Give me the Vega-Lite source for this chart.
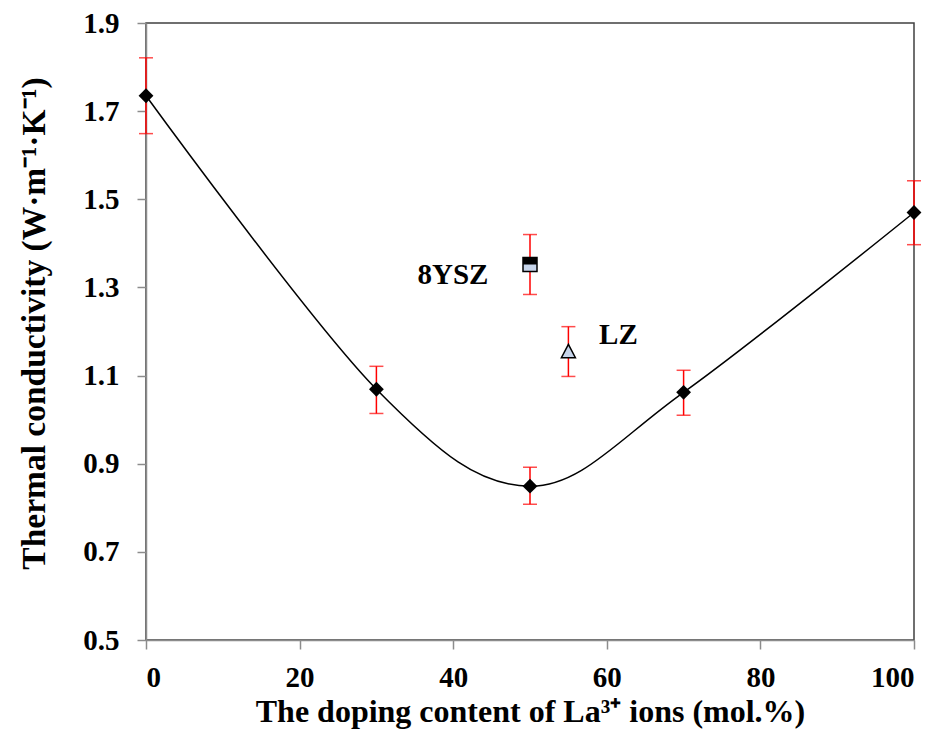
{
  "$schema": "https://vega.github.io/schema/vega-lite/v6.json",
  "autosize": {"type": "none"},
  "width": 768,
  "height": 617,
  "padding": {"left": 146, "top": 23, "right": 30, "bottom": 106},
  "background": "white",
  "config": {
    "font": "Liberation Serif",
    "view": {"stroke": "#404040", "strokeWidth": 1.5},
    "axis": {
      "labelFont": "Liberation Serif",
      "titleFont": "Liberation Serif",
      "labelFontWeight": "bold",
      "titleFontWeight": "bold",
      "labelFontSize": 29,
      "titleFontSize": 32,
      "labelColor": "black",
      "titleColor": "black",
      "domainColor": "#8c8c8c",
      "domainWidth": 1.5,
      "tickColor": "#8c8c8c",
      "tickWidth": 1.5,
      "tickSize": 9,
      "grid": false
    }
  },
  "data": {
    "values": [
      {"content": 0, "k": 1.735, "lo": 1.649, "hi": 1.821, "series": "La"},
      {"content": 30, "k": 1.069, "lo": 1.014, "hi": 1.121, "series": "La"},
      {"content": 50, "k": 0.849, "lo": 0.808, "hi": 0.892, "series": "La"},
      {"content": 70, "k": 1.062, "lo": 1.010, "hi": 1.112, "series": "La"},
      {"content": 100, "k": 1.470, "lo": 1.397, "hi": 1.542, "series": "La"},
      {"content": 50, "k": 1.352, "lo": 1.284, "hi": 1.420, "series": "8YSZ"},
      {"content": 55, "k": 1.155, "lo": 1.098, "hi": 1.211, "series": "LZ"}
    ]
  },
  "encoding": {
    "x": {
      "field": "content", "type": "quantitative",
      "scale": {"domain": [0, 100], "nice": false, "zero": false},
      "axis": {"values": [0, 20, 40, 60, 80, 100], "labelPadding": 14, "titlePadding": 4,
               "title": "The doping content of La³⁺ ions (mol.%)"}
    },
    "y": {
      "field": "k", "type": "quantitative",
      "scale": {"domain": [0.5, 1.9], "nice": false, "zero": false},
      "axis": {"values": [0.5, 0.7, 0.9, 1.1, 1.3, 1.5, 1.7, 1.9], "format": ".1f",
               "labelPadding": 18, "titlePadding": 31, "titleFontSize": 33.5, "titleY": 300,
               "title": "Thermal conductivity (W·m⁻¹·K⁻¹)"}
    }
  },
  "layer": [
    {
      "transform": [{"filter": "datum.series === 'La'"}],
      "mark": {"type": "line", "interpolate": "cardinal", "color": "black", "strokeWidth": 1.5}
    },
    {
      "mark": {"type": "rule", "color": "#ff0000", "strokeWidth": 1.5},
      "encoding": {"y": {"field": "lo", "type": "quantitative"}, "y2": {"field": "hi"}}
    },
    {
      "mark": {"type": "tick", "orient": "horizontal", "color": "#ff0000", "size": 14, "thickness": 1.5},
      "encoding": {"y": {"field": "lo", "type": "quantitative"}}
    },
    {
      "mark": {"type": "tick", "orient": "horizontal", "color": "#ff0000", "size": 14, "thickness": 1.5},
      "encoding": {"y": {"field": "hi", "type": "quantitative"}}
    },
    {
      "transform": [{"filter": "datum.series === 'La'"}],
      "mark": {"type": "point", "shape": "diamond", "filled": true, "color": "black", "size": 220, "opacity": 1}
    },
    {
      "transform": [{"filter": "datum.series === '8YSZ'"}],
      "mark": {"type": "point", "shape": "square", "filled": true, "fill": "#c6d4ea", "stroke": "black", "strokeWidth": 1.5, "size": 196, "opacity": 1}
    },
    {
      "transform": [{"filter": "datum.series === '8YSZ'"}],
      "mark": {"type": "point", "shape": "M-1,-1L1,-1L1,0L-1,0Z", "filled": true, "fill": "black", "size": 196, "opacity": 1}
    },
    {
      "transform": [{"filter": "datum.series === 'LZ'"}],
      "mark": {"type": "point", "shape": "M0,-1L1,0.9L-1,0.9Z", "filled": true, "fill": "#c6d4ea", "stroke": "black", "strokeWidth": 1.5, "size": 196, "opacity": 1}
    },
    {
      "transform": [{"filter": "datum.series === '8YSZ'"}],
      "mark": {"type": "text", "font": "Liberation Serif", "fontWeight": "bold", "fontSize": 29, "color": "black", "baseline": "middle", "align": "center", "dx": -77, "dy": 10},
      "encoding": {"text": {"field": "series"}}
    },
    {
      "transform": [{"filter": "datum.series === 'LZ'"}],
      "mark": {"type": "text", "font": "Liberation Serif", "fontWeight": "bold", "fontSize": 29, "color": "black", "baseline": "middle", "align": "center", "dx": 50, "dy": -16},
      "encoding": {"text": {"field": "series"}}
    }
  ]
}
